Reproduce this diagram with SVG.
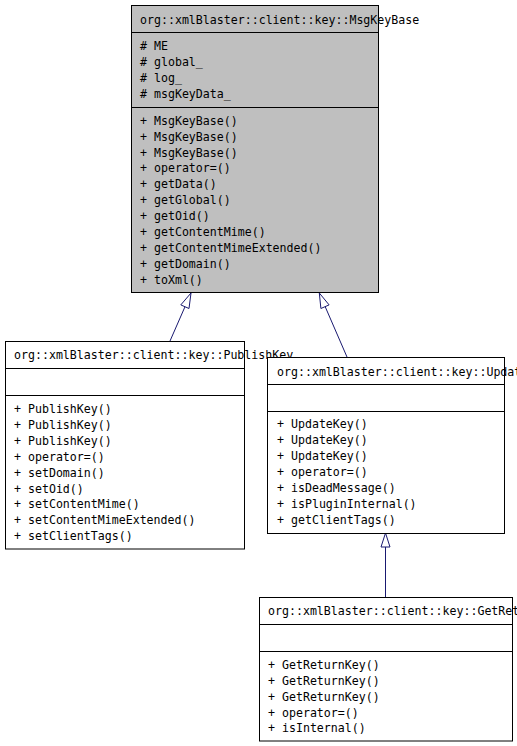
<svg xmlns="http://www.w3.org/2000/svg" width="517" height="746" viewBox="0 0 517 746">
<style>
.box{stroke:#000;stroke-width:1;fill:#fff}
.base{fill:#bfbfbf}
.div{stroke:#000;stroke-width:1}
text{font-family:"DejaVu Sans Mono","Liberation Mono",monospace;font-size:11.6px;fill:#000}
.edge{stroke:#191970;stroke-width:1;fill:none}
.head{stroke:#191970;stroke-width:1;fill:#fff}
</style>
<rect width="517" height="746" fill="#fff"/>
<g id="MsgKeyBase">
<rect class="box base" x="131.5" y="5.5" width="247" height="287"/>
<line class="div" x1="131.5" y1="32.5" x2="378.5" y2="32.5"/>
<line class="div" x1="131.5" y1="107.5" x2="378.5" y2="107.5"/>
<text x="140" y="24">org::xmlBlaster::client::key::MsgKeyBase</text>
<text x="140" y="50"># ME</text>
<text x="140" y="65.9"># global_</text>
<text x="140" y="81.8"># log_</text>
<text x="140" y="97.7"># msgKeyData_</text>
<text x="140" y="124.7">+ MsgKeyBase()</text>
<text x="140" y="140.6">+ MsgKeyBase()</text>
<text x="140" y="156.5">+ MsgKeyBase()</text>
<text x="140" y="172.4">+ operator=()</text>
<text x="140" y="188.3">+ getData()</text>
<text x="140" y="204.2">+ getGlobal()</text>
<text x="140" y="220.1">+ getOid()</text>
<text x="140" y="236">+ getContentMime()</text>
<text x="140" y="251.9">+ getContentMimeExtended()</text>
<text x="140" y="267.8">+ getDomain()</text>
<text x="140" y="283.7">+ toXml()</text>
</g>
<g id="connectors">
<line class="edge" x1="170" y1="341" x2="185" y2="306.7"/>
<polygon class="head" points="191,293 189,308.5 180.8,304.9"/>
<line class="edge" x1="347" y1="357" x2="325.2" y2="306.7"/>
<polygon class="head" points="319.3,293 329.1,304.9 320.9,308.5"/>
<line class="edge" x1="385.5" y1="597" x2="385.5" y2="547"/>
<polygon class="head" points="385.5,533 390,547 381,547"/>
</g>
<g id="PublishKey">
<rect class="box" x="5.5" y="341.5" width="239" height="207.5"/>
<line class="div" x1="5.5" y1="368.5" x2="244.5" y2="368.5"/>
<line class="div" x1="5.5" y1="395.5" x2="244.5" y2="395.5"/>
<text x="14" y="359">org::xmlBlaster::client::key::PublishKey</text>
<text x="14" y="413.3">+ PublishKey()</text>
<text x="14" y="429.2">+ PublishKey()</text>
<text x="14" y="445">+ PublishKey()</text>
<text x="14" y="460.9">+ operator=()</text>
<text x="14" y="476.7">+ setDomain()</text>
<text x="14" y="492.6">+ setOid()</text>
<text x="14" y="508.4">+ setContentMime()</text>
<text x="14" y="524.3">+ setContentMimeExtended()</text>
<text x="14" y="540.1">+ setClientTags()</text>
</g>
<g id="UpdateKey">
<rect class="box" x="267.5" y="357.5" width="237" height="176"/>
<line class="div" x1="267.5" y1="384.5" x2="504.5" y2="384.5"/>
<line class="div" x1="267.5" y1="411.5" x2="504.5" y2="411.5"/>
<text x="277" y="376">org::xmlBlaster::client::key::UpdateKey</text>
<text x="277" y="428.3">+ UpdateKey()</text>
<text x="277" y="444.2">+ UpdateKey()</text>
<text x="277" y="460.1">+ UpdateKey()</text>
<text x="277" y="476">+ operator=()</text>
<text x="277" y="491.9">+ isDeadMessage()</text>
<text x="277" y="507.8">+ isPluginInternal()</text>
<text x="277" y="523.7">+ getClientTags()</text>
</g>
<g id="GetReturnKey">
<rect class="box" x="259.5" y="597.5" width="253" height="143.5"/>
<line class="div" x1="259.5" y1="624.5" x2="512.5" y2="624.5"/>
<line class="div" x1="259.5" y1="651.5" x2="512.5" y2="651.5"/>
<text x="268" y="615">org::xmlBlaster::client::key::GetReturnKey</text>
<text x="268" y="669">+ GetReturnKey()</text>
<text x="268" y="684.9">+ GetReturnKey()</text>
<text x="268" y="700.7">+ GetReturnKey()</text>
<text x="268" y="716.6">+ operator=()</text>
<text x="268" y="732.4">+ isInternal()</text>
</g>
</svg>
